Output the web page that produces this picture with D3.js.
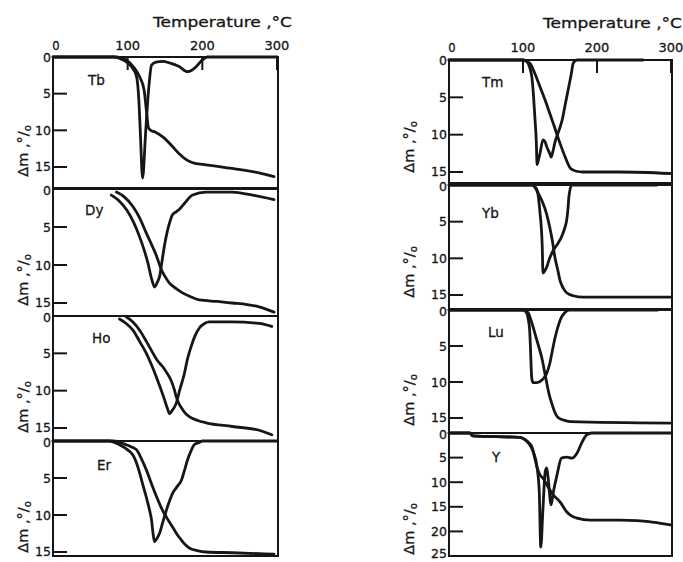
<!DOCTYPE html>
<html><head><meta charset="utf-8">
<script src="https://cdn.jsdelivr.net/npm/d3@7/dist/d3.min.js"></script>
<style>html,body{margin:0;padding:0;background:#fff;}svg{display:block;}</style>
</head><body>
<svg id="chart" width="683" height="562"></svg>
<script>
// ---- data (temperature °C, mass change %) ----
const xTicks = [0, 100, 200, 300];
const yTicks = [0, 5, 10, 15];
const yTicksY = [0, 5, 10, 15, 20, 25];
const panelNames = ["Tb", "Dy", "Ho", "Er", "Tm", "Yb", "Lu", "Y"];
const xTitle = "Temperature ,°C";

const tbTG = [[0,0],[85,0],[98,0.4],[109,1.5],[116,2.7],[122,4.5],[125,7.2],[128,9.7],[131,10],[136,10.2],[147,10.9],[160,12.2],[169,13.2],[180,14.1],[190,14.5],[205,14.7],[240,15.2],[276,15.8],[296,16.3]];
const tbDTG = [[0,0],[82,0],[94,0.4],[105,1.3],[112,2.7],[115,5.9],[117,10.4],[120,16.5],[124,10.4],[128,4.5],[132,1.1],[138,0.7],[147,0.6],[156,0.8],[169,1.3],[180,2],[186,1.8],[192,1.3],[200,0.4],[207,0],[300,0]];

const dyTG = [[85,0.4],[95,1],[107,2.3],[116,3.8],[125,5.8],[132,7.3],[139,8.9],[145,10.6],[150,11.5],[156,12.4],[165,13.1],[174,13.7],[185,14.2],[196,14.6],[220,14.8],[240,15],[260,15.2],[276,15.5],[296,16.2]];
const dyDTG = [[78,0.8],[88,1.5],[99,2.8],[108,4.4],[116,6.3],[122,8],[127,9.7],[132,11.8],[136,12.9],[140,12.2],[143,11.4],[146,9.5],[149,7.6],[153,5.6],[156,4.5],[160,3.4],[165,3.0],[169,2.7],[176,1.9],[187,0.8],[205,0.4],[240,0.4],[267,0.8],[296,1.4]];

const hoTG = [[98,0.1],[107,0.8],[116,1.9],[125,3.4],[134,5],[140,6],[147,6.8],[153,7.7],[158,8.6],[162,9.7],[165,10.8],[168,11.6],[172,12.3],[177,13],[183,13.5],[194,14],[205,14.3],[240,14.8],[276,15.3],[293,15.9]];
const hoDTG = [[89,0.4],[98,1],[107,1.9],[116,3.4],[125,5],[133,6.8],[140,8.6],[148,10.8],[154,12.6],[156,13.1],[160,12.6],[165,11.7],[170,9.8],[176,7.7],[180,5.8],[185,4.1],[190,2.7],[196,1.6],[203,1],[209,0.8],[240,0.8],[276,1],[293,1.4]];

const erTG = [[0,0],[80,0],[90,0.2],[98,0.5],[105,0.8],[112,1.2],[118,2.3],[125,3.9],[132,5.8],[139,7.6],[144,8.8],[149,9.8],[155,10.8],[160,11.6],[166,12.6],[172,13.4],[177,14],[183,14.5],[193,14.8],[205,15],[240,15.1],[296,15.3]];
const erDTG = [[0,0],[75,0],[89,0.5],[100,1.2],[107,1.9],[112,3],[116,4.3],[120,5.8],[125,7.6],[129,9.2],[132,10.7],[134,12.5],[136,13.6],[139,13.2],[143,12.4],[147,11],[152,9.3],[156,8.1],[160,7.1],[166,6.2],[172,5.3],[176,4],[180,2.6],[185,1.3],[189,0.5],[196,0.2],[200,0],[300,0]];

const tmTG = [[0,0],[100,0],[109,0.4],[116,1.8],[123,3.6],[130,5.4],[136,7.1],[142,8.8],[147,10.3],[152,11.7],[157,13],[164,14.5],[172,14.9],[181,15],[231,15],[299,15.2]];
const tmDTG = [[0,0],[100,0],[105,0.2],[109,1],[112,2.3],[114,4.5],[116,7.6],[118,11],[119,14],[121,13.3],[123,12.5],[127,10.7],[130,11],[132,11.6],[136,12.5],[138,13],[140,12.4],[143,11.1],[148,9.6],[153,8],[157,6],[161,4],[165,2],[168,0.4],[173,0],[262,0]];

const ybTG = [[0,0],[113,0],[116,0.3],[121,1.2],[127,2.5],[132,4],[136,5.7],[140,7.8],[143,9.8],[147,11.6],[150,13],[154,14],[159,14.7],[168,15.1],[181,15.3],[299,15.3]];
const ybDTG = [[0,0],[113,0],[116,0.2],[119,0.7],[123,3.8],[126,8.4],[127,12],[132,11.2],[136,10],[141,8.9],[147,8],[152,7.1],[156,6],[159,4.8],[161,3],[162,1.6],[166,0],[281,0]];

const luTG = [[0,0],[102,0],[107,0.4],[111,1.5],[116,3.2],[121,5],[126,6.9],[129,8.5],[132,10.1],[136,12],[139,13],[143,14.2],[147,14.9],[155,15.3],[164,15.5],[299,15.7]];
const luDTG = [[0,0],[100,0],[105,0.4],[107,1.2],[109,2.8],[110,5],[111,7.9],[112,9.6],[114,10.1],[119,10.1],[126,9.7],[132,8.8],[136,7.5],[139,6],[143,4],[147,2.4],[152,1],[157,0.3],[162,0],[282,0]];

const yTG = [[0,0],[28,0],[32,0.6],[96,0.9],[103,1.4],[108,2],[112,2.8],[116,5.1],[119,7],[123,8.5],[127,9.2],[134,11],[141,12.6],[150,14],[159,16],[166,16.9],[173,17.3],[191,17.7],[231,17.7],[254,17.8],[270,18],[284,18.3],[301,18.7]];
const yDTG = [[0,0],[28,0],[32,0.6],[96,0.9],[103,1.4],[107,2],[114,3.9],[119,7],[122,12],[124,23.2],[127,15.3],[130,7.9],[132,7.1],[134,9.2],[138,14.6],[141,12],[146,8.5],[152,5.1],[159,4.9],[166,5.1],[173,4.1],[180,1.8],[186,0.4],[193,0],[300,0]];

const curves = {Tb:[tbTG,tbDTG], Dy:[dyTG,dyDTG], Ho:[hoTG,hoDTG], Er:[erTG,erDTG],
                Tm:[tmTG,tmDTG], Yb:[ybTG,ybDTG], Lu:[luTG,luDTG], Y:[yTG,yDTG]};

// ---- layout ----
const cols = [{x0:53, x1:277, frameR:278, labelX:51, axisLabelX:23, xLabelY:50, titleX:153, titleY:27},
              {x0:449, x1:671, frameR:672, labelX:447, axisLabelX:409, xLabelY:52, titleX:543, titleY:28}];
const layout = {
  Tb:{col:0, top:57,  bottom:188, ref:15, refY:167, lx:88,  ly:85,  ay:151},
  Dy:{col:0, top:189, bottom:316, ref:15, refY:303, lx:85,  ly:215, ay:280},
  Ho:{col:0, top:316, bottom:441, ref:15, refY:428, lx:92,  ly:343, ay:407},
  Er:{col:0, top:441, bottom:556, ref:15, refY:552, lx:97,  ly:470, ay:527},
  Tm:{col:1, top:60,  bottom:183, ref:15, refY:172, lx:482, ly:87,  ay:147},
  Yb:{col:1, top:185, bottom:309, ref:15, refY:295, lx:482, ly:218, ay:272},
  Lu:{col:1, top:310, bottom:433, ref:15, refY:418, lx:488, ly:337, ay:400},
  Y: {col:1, top:433, bottom:556, ref:25, refY:556, lx:492, ly:462, ay:529}
};
const ink = "#161616";
const font = "'DejaVu Sans', 'Liberation Sans', sans-serif";

const svg = d3.select("#chart");
svg.append("rect").attr("width",683).attr("height",562).attr("fill","#fff");

cols.forEach((c, ci) => {
  const x = d3.scaleLinear().domain([0,300]).range([c.x0, c.x1]);
  svg.append("text").attr("x", c.titleX).attr("y", c.titleY)
    .attr("font-family", font).attr("font-size", 14.5).attr("fill", ink)
    .attr("stroke", ink).attr("stroke-width", 0.3)
    .attr("textLength", 139).attr("lengthAdjust", "spacingAndGlyphs")
    .text(xTitle);
  const names = panelNames.filter(n => layout[n].col === ci);
  const firstTop = layout[names[0]].top;
  svg.selectAll(null).data(xTicks).enter().append("text")
    .attr("x", d => d === 0 ? x(d) + 3 : x(d))
    .attr("y", c.xLabelY)
    .attr("text-anchor", "middle")
    .attr("font-family", font).attr("font-size", d => d === 0 ? 11.5 : 13).attr("fill", ink)
    .attr("stroke", ink).attr("stroke-width", 0.3)
    .text(d => d);
  svg.selectAll(null).data(xTicks.slice(1)).enter().append("line")
    .attr("x1", d => x(d)).attr("x2", d => x(d))
    .attr("y1", firstTop).attr("y2", firstTop + 13)
    .attr("stroke", ink).attr("stroke-width", 2);

  names.forEach((name, pi) => {
    const L = layout[name];
    const y = d3.scaleLinear().domain([0, L.ref]).range([L.top, L.refY]);
    const ticks = name === "Y" ? yTicksY : yTicks;
    const g = svg.append("g");
    g.append("rect").attr("x", c.x0).attr("y", L.top)
      .attr("width", c.frameR - c.x0).attr("height", L.bottom - L.top)
      .attr("fill", "none").attr("stroke", ink).attr("stroke-width", 2);
    g.selectAll(null).data(ticks.filter(t => t > 0 && y(t) < L.bottom - 1)).enter().append("line")
      .attr("x1", c.x0).attr("x2", c.x0 + 14)
      .attr("y1", d => y(d)).attr("y2", d => y(d))
      .attr("stroke", ink).attr("stroke-width", 2);
    g.selectAll(null).data(ticks).enter().append("text")
      .attr("x", c.labelX)
      .attr("y", d => {
        let p = y(d);
        if (d === 0 && pi > 0) p += 1;
        if (d === 15 && name !== "Y") p -= 1;
        if (d === 25) p -= 2.5;
        return p;
      })
      .attr("dy", "0.36em")
      .attr("text-anchor", "end")
      .attr("font-family", font).attr("font-size", 12.5).attr("fill", ink)
      .attr("stroke", ink).attr("stroke-width", 0.3)
      .text(d => d);
    const line = d3.line().x(d => x(d[0])).y(d => y(d[1])).curve(d3.curveMonotoneX);
    curves[name].forEach(series => {
      g.append("path").datum(series).attr("d", line)
        .attr("fill", "none").attr("stroke", ink).attr("stroke-width", 2.8)
        .attr("stroke-linejoin", "round").attr("stroke-linecap", "round");
    });
    g.append("text").attr("x", L.lx).attr("y", L.ly)
      .attr("font-family", font).attr("font-size", 13.5).attr("fill", ink)
      .attr("stroke", ink).attr("stroke-width", 0.3)
      .text(name);
    const al = g.append("text")
      .attr("transform", `translate(${c.axisLabelX + 5},${L.ay}) rotate(-90)`)
      .attr("text-anchor", "middle")
      .attr("font-family", font).attr("font-size", 14.5).attr("fill", ink)
      .attr("stroke", ink).attr("stroke-width", 0.3);
    al.append("tspan").text("Δm ,°/");
    al.append("tspan").attr("font-size", 10).attr("dy", "0.25em").text("o");
  });
});
</script>
</body></html>
